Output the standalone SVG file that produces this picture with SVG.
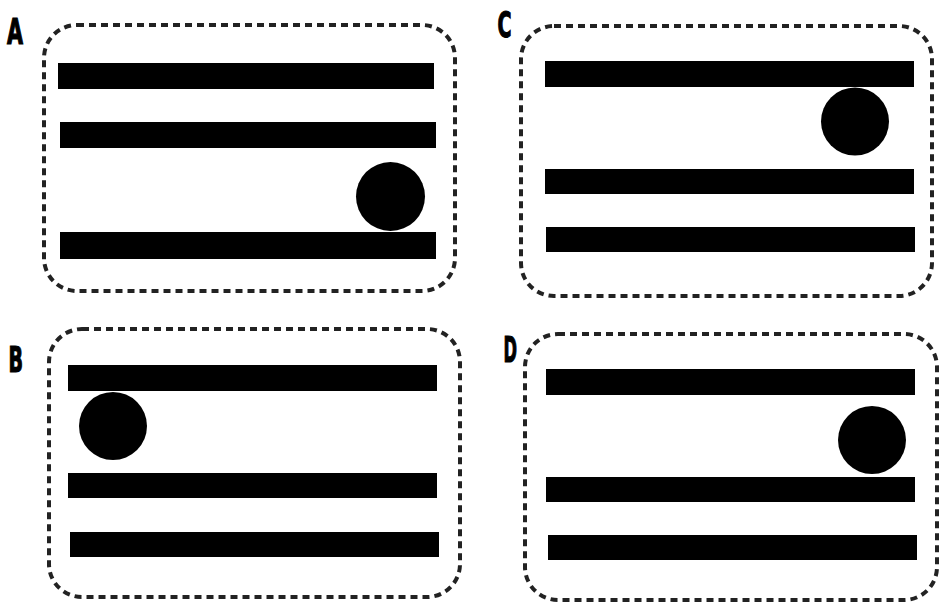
<svg xmlns="http://www.w3.org/2000/svg" width="946" height="603" viewBox="0 0 946 603">
<style>
.frame{fill:none;stroke:#222;stroke-width:4;stroke-dasharray:7 5}
.bar{fill:#000}
.ball{fill:#000}
.lbl{font-family:"DejaVu Sans Condensed","DejaVu Sans",sans-serif;font-weight:bold;font-size:35px;fill:#000;stroke:#000;stroke-width:1.2}
</style>
<rect width="946" height="603" fill="#fff"/>
<g id="panelA">
<text class="lbl" x="7" y="44" textLength="16" lengthAdjust="spacingAndGlyphs">A</text>
<rect class="frame" x="44" y="25" width="411" height="266" rx="33"/>
<rect class="bar" x="58" y="63" width="376" height="26"/>
<rect class="bar" x="60" y="122" width="376" height="26"/>
<rect class="bar" x="60" y="232" width="376" height="27"/>
<circle class="ball" cx="390.5" cy="196.5" r="34.5"/>
</g>
<g id="panelB">
<text class="lbl" x="8.5" y="371.5" textLength="14.5" lengthAdjust="spacingAndGlyphs">B</text>
<rect class="frame" x="49" y="329" width="411" height="268" rx="33"/>
<rect class="bar" x="68" y="365" width="369" height="26"/>
<rect class="bar" x="68" y="473" width="369" height="25"/>
<rect class="bar" x="70" y="532" width="369" height="25"/>
<circle class="ball" cx="113" cy="426" r="34"/>
</g>
<g id="panelC">
<text class="lbl" x="497.5" y="36.5" textLength="14" lengthAdjust="spacingAndGlyphs">C</text>
<rect class="frame" x="521" y="26" width="411" height="270" rx="33"/>
<rect class="bar" x="545" y="61" width="369" height="26"/>
<rect class="bar" x="545" y="169" width="369" height="25"/>
<rect class="bar" x="546" y="227" width="369" height="25"/>
<circle class="ball" cx="855" cy="121.5" r="34"/>
</g>
<g id="panelD">
<text class="lbl" x="503.5" y="361.5" textLength="13.5" lengthAdjust="spacingAndGlyphs">D</text>
<rect class="frame" x="525" y="334" width="412" height="266" rx="33"/>
<rect class="bar" x="546" y="369" width="369" height="26"/>
<rect class="bar" x="546" y="477" width="369" height="25"/>
<rect class="bar" x="548" y="535" width="369" height="25"/>
<circle class="ball" cx="872" cy="440" r="34"/>
</g>
<g id="connectors"></g>
</svg>
